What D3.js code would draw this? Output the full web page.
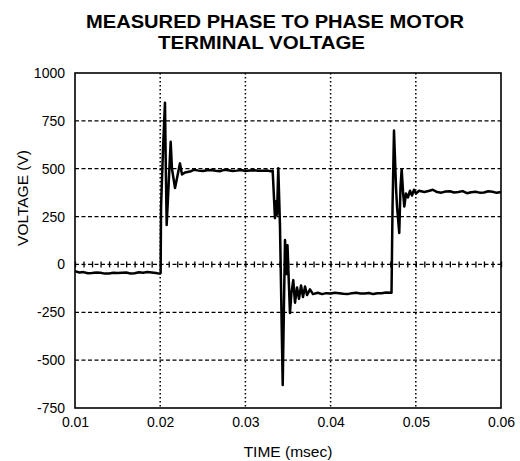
<!DOCTYPE html>
<html>
<head>
<meta charset="utf-8">
<script src="https://cdn.jsdelivr.net/npm/d3@7"></script>
<style>
  body { margin: 0; background: #fff; }
  svg { display: block; font-family: "Liberation Sans", Arial, sans-serif; }
</style>
</head>
<body>
<div id="chart"></div>
<script>
const titleLines = ["MEASURED PHASE TO PHASE MOTOR", "TERMINAL VOLTAGE"];
const xLabel = "TIME (msec)";
const yLabel = "VOLTAGE (V)";
const xTicks = [0.01, 0.02, 0.03, 0.04, 0.05, 0.06];
const yTicks = [1000, 750, 500, 250, 0, -250, -500, -750];

// trace
const timeMs = [
  0.0100, 0.0105, 0.0110, 0.0115, 0.0120, 0.0125, 0.0130, 0.0135, 0.0140, 0.0145,
  0.0150, 0.0155, 0.0160, 0.0165, 0.0170, 0.0175, 0.0180, 0.0185, 0.0190, 0.0195, 0.0199,
  0.02005, 0.0201, 0.02033, 0.02056, 0.02066, 0.02076, 0.02097, 0.02123, 0.02138, 0.02174,
  0.02197, 0.02232, 0.02256, 0.02291, 0.0235, 0.0240, 0.0245, 0.0250, 0.0255, 0.0260,
  0.0265, 0.0270, 0.0275, 0.0280, 0.0285, 0.0290, 0.0295, 0.0300, 0.0305, 0.0310,
  0.0315, 0.0320, 0.0325, 0.0330, 0.0332,
  0.03347, 0.03359, 0.03371, 0.03386, 0.03406, 0.03438, 0.03453, 0.03465, 0.03482, 0.03494,
  0.03523, 0.0354, 0.03562, 0.03582, 0.03606, 0.03629, 0.03653, 0.03676, 0.0370, 0.03723,
  0.03758, 0.03793, 0.0385, 0.0390, 0.0395, 0.0400, 0.0405, 0.0410, 0.0415, 0.0420,
  0.0425, 0.0430, 0.0435, 0.0440, 0.0445, 0.0450, 0.0455, 0.0460, 0.0465, 0.04715,
  0.04727, 0.04744, 0.04768, 0.0478, 0.04806, 0.0482, 0.04834, 0.0485, 0.04865, 0.04885,
  0.04908, 0.04932, 0.04955, 0.04979, 0.05002, 0.05038, 0.0510, 0.0515, 0.0520, 0.0525,
  0.0530, 0.0535, 0.0540, 0.0545, 0.0550, 0.0555, 0.0560, 0.0565, 0.0570, 0.0575,
  0.0580, 0.0585, 0.0590, 0.0595, 0.0600
];
const voltageV = [
  -35, -42, -40, -46, -45, -42, -44, -48, -47, -44,
  -45, -43, -42, -47, -46, -41, -43, -40, -42, -45, -48,
  -45, 300, 600, 845, 500, 206, 400, 641, 500, 399,
  450, 528, 470, 480, 485, 495, 490, 488, 492, 493,
  489, 487, 494, 492, 488, 490, 493, 488, 491, 492,
  489, 490, 491, 487, 490,
  242, 330, 260, 503, 200, -630, -200, 127, -50, 100,
  -254, -150, -82, -200, -120, -180, -110, -170, -115, -160,
  -130, -155, -148, -155, -150, -152, -148, -150, -153, -155,
  -150, -148, -152, -152, -149, -155, -151, -150, -147, -148,
  300, 699, 400, 300, 164, 400, 497, 380, 302, 370,
  350, 385, 360, 390, 370, 385, 378, 384, 390, 378,
  375, 381, 382, 376, 378, 383, 372, 377, 380, 375,
  376, 382, 380, 374, 378
];

const width = 520;
const height = 461;
const margin = {top: 73, right: 19, bottom: 53, left: 75};

const svg = d3.select("#chart")
  .append("svg")
  .attr("width", width)
  .attr("height", height);

const x = d3.scaleLinear().domain([0.01, 0.06]).range([margin.left, width - margin.right]);
const y = d3.scaleLinear().domain([-750, 1000]).range([height - margin.bottom, margin.top]);

// Title, stretched to the width of the original lettering.
svg.append("text")
  .attr("x", 86).attr("y", 28)
  .attr("font-size", "18px")
  .attr("font-weight", "bold")
  .attr("textLength", 378)
  .attr("lengthAdjust", "spacingAndGlyphs")
  .text(titleLines[0]);
svg.append("text")
  .attr("x", 158).attr("y", 49)
  .attr("font-size", "18px")
  .attr("font-weight", "bold")
  .attr("textLength", 207)
  .attr("lengthAdjust", "spacingAndGlyphs")
  .text(titleLines[1]);

// Grid.
svg.append("g")
  .selectAll("line")
  .data(xTicks.slice(1, -1))
  .join("line")
  .attr("x1", d => x(d)).attr("x2", d => x(d))
  .attr("y1", y(1000)).attr("y2", y(-750))
  .attr("stroke", "#000")
  .attr("stroke-width", 1.5)
  .attr("stroke-dasharray", "1.5,2.5");

svg.append("g")
  .selectAll("line")
  .data(yTicks.filter(d => d !== 0 && d !== 1000 && d !== -750))
  .join("line")
  .attr("x1", x(0.01)).attr("x2", x(0.06))
  .attr("y1", d => y(d)).attr("y2", d => y(d))
  .attr("stroke", "#000")
  .attr("stroke-width", 1.3)
  .attr("stroke-dasharray", "4,2.5");

// Zero line with small crosses.
svg.append("line")
  .attr("x1", x(0.01)).attr("x2", x(0.06))
  .attr("y1", y(0)).attr("y2", y(0))
  .attr("stroke", "#000")
  .attr("stroke-width", 1.3)
  .attr("stroke-dasharray", "4,2.5");
svg.append("g")
  .attr("transform", `translate(0,${y(0) + 3})`)
  .call(d3.axisTop(x).ticks(50).tickSize(6).tickFormat(""))
  .call(g => g.select(".domain").remove())
  .call(g => g.selectAll("line").attr("stroke-width", 1.3));

// Frame.
svg.append("rect")
  .attr("x", x(0.01)).attr("y", y(1000))
  .attr("width", x(0.06) - x(0.01))
  .attr("height", y(-750) - y(1000))
  .attr("fill", "none")
  .attr("stroke", "#000")
  .attr("stroke-width", 1.6);

// Trace.
svg.append("path")
  .datum(timeMs.map((t, i) => [t, voltageV[i]]))
  .attr("fill", "none")
  .attr("stroke", "#000")
  .attr("stroke-width", 2.5)
  .attr("stroke-linejoin", "round")
  .attr("d", d3.line().x(d => x(d[0])).y(d => y(d[1])));

// Axes labels.
svg.append("g")
  .attr("transform", `translate(0,${y(-750)})`)
  .call(d3.axisBottom(x).tickValues(xTicks).tickSize(0).tickPadding(9).tickFormat(d3.format(".2f")))
  .call(g => g.select(".domain").remove())
  .call(g => g.selectAll("text").attr("font-size", "14px").attr("font-family", "Liberation Sans, Arial, sans-serif"));

svg.append("g")
  .attr("transform", `translate(${x(0.01)},0)`)
  .call(d3.axisLeft(y).tickValues(yTicks).tickSize(0).tickPadding(10).tickFormat(d => String(d)))
  .call(g => g.select(".domain").remove())
  .call(g => g.selectAll("text").attr("font-size", "14px").attr("font-family", "Liberation Sans, Arial, sans-serif"));

svg.append("text")
  .attr("x", 288).attr("y", 457)
  .attr("text-anchor", "middle")
  .attr("font-size", "15.5px")
  .text(xLabel);

svg.append("text")
  .attr("transform", `translate(28,198) rotate(-90)`)
  .attr("text-anchor", "middle")
  .attr("font-size", "15.5px")
  .text(yLabel);
</script>
</body>
</html>
